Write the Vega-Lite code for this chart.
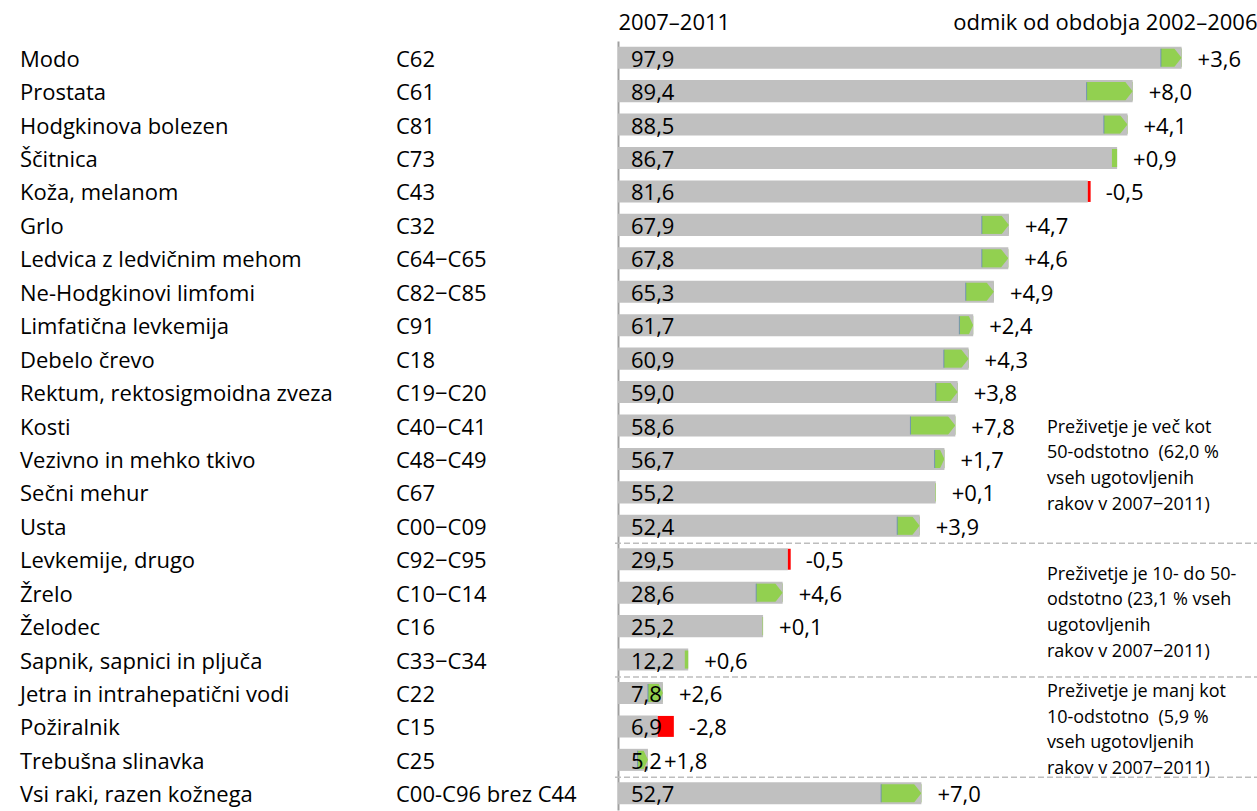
{
  "$schema": "https://vega.github.io/schema/vega-lite/v6.json",
  "width": 639,
  "height": 769,
  "padding": {"left": 20, "top": 11, "right": 0, "bottom": 3},
  "background": "white",
  "config": {
    "view": {"stroke": null},
    "locale": {"number": {"decimal": ",", "thousands": ".", "grouping": [3], "currency": ["", " €"], "minus": "-"}},
    "font": "Open Sans",
    "text": {"font": "Open Sans", "fontSize": 22, "color": "#000000"},
    "axisY": {"labels": false, "ticks": false, "title": null, "domain": true, "domainColor": "#a0a0a0", "domainWidth": 2, "grid": false}
  },
  "data": {"values": [
    {"name": "Modo", "code": "C62", "cur": 97.9, "delta": 3.6, "prev": 94.3},
    {"name": "Prostata", "code": "C61", "cur": 89.4, "delta": 8.0, "prev": 81.4},
    {"name": "Hodgkinova bolezen", "code": "C81", "cur": 88.5, "delta": 4.1, "prev": 84.4},
    {"name": "Ščitnica", "code": "C73", "cur": 86.7, "delta": 0.9, "prev": 85.8},
    {"name": "Koža, melanom", "code": "C43", "cur": 81.6, "delta": -0.5, "prev": 82.1},
    {"name": "Grlo", "code": "C32", "cur": 67.9, "delta": 4.7, "prev": 63.2},
    {"name": "Ledvica z ledvičnim mehom", "code": "C64−C65", "cur": 67.8, "delta": 4.6, "prev": 63.2},
    {"name": "Ne-Hodgkinovi limfomi", "code": "C82−C85", "cur": 65.3, "delta": 4.9, "prev": 60.4},
    {"name": "Limfatična levkemija", "code": "C91", "cur": 61.7, "delta": 2.4, "prev": 59.3},
    {"name": "Debelo črevo", "code": "C18", "cur": 60.9, "delta": 4.3, "prev": 56.6},
    {"name": "Rektum, rektosigmoidna zveza", "code": "C19−C20", "cur": 59.0, "delta": 3.8, "prev": 55.2},
    {"name": "Kosti", "code": "C40−C41", "cur": 58.6, "delta": 7.8, "prev": 50.8},
    {"name": "Vezivno in mehko tkivo", "code": "C48−C49", "cur": 56.7, "delta": 1.7, "prev": 55.0},
    {"name": "Sečni mehur", "code": "C67", "cur": 55.2, "delta": 0.1, "prev": 55.1},
    {"name": "Usta", "code": "C00−C09", "cur": 52.4, "delta": 3.9, "prev": 48.5},
    {"name": "Levkemije, drugo", "code": "C92−C95", "cur": 29.5, "delta": -0.5, "prev": 30.0},
    {"name": "Žrelo", "code": "C10−C14", "cur": 28.6, "delta": 4.6, "prev": 24.0},
    {"name": "Želodec", "code": "C16", "cur": 25.2, "delta": 0.1, "prev": 25.1},
    {"name": "Sapnik, sapnici in pljuča", "code": "C33−C34", "cur": 12.2, "delta": 0.6, "prev": 11.6},
    {"name": "Jetra in intrahepatični vodi", "code": "C22", "cur": 7.8, "delta": 2.6, "prev": 5.2},
    {"name": "Požiralnik", "code": "C15", "cur": 6.9, "delta": -2.8, "prev": 9.7},
    {"name": "Trebušna slinavka", "code": "C25", "cur": 5.2, "delta": 1.8, "prev": 3.4},
    {"name": "Vsi raki, razen kožnega", "code": "C00-C96 brez C44", "cur": 52.7, "delta": 7.0, "prev": 45.7}
  ]},
  "resolve": {"scale": {"x": "independent"}, "axis": {"x": "independent"}},
  "layer": [
    {
      "layer": [
        {
          "mark": {"type": "bar", "color": "#c0c0c0"},
          "encoding": {
            "x": {"field": "cur", "type": "quantitative", "scale": {"domain": [0, 111], "nice": false},
              "axis": {"orient": "top", "values": [0, 111], "labelExpr": "datum.value == 0 ? '2007–2011' : 'odmik od obdobja 2002–2006'", "labelFlush": true, "labelOverlap": false, "labelLimit": 0, "ticks": false, "domain": false, "grid": false, "title": null, "labelFontSize": 22, "labelFont": "Open Sans", "labelColor": "#000000", "labelPadding": 12, "labelBaseline": "alphabetic"}},
            "y": {"field": "name", "type": "nominal", "sort": null, "scale": {"paddingInner": 0.34, "paddingOuter": 0.17}}
          }
        },
        {
          "transform": [{"filter": "datum.delta < 0"}],
          "mark": {"type": "bar", "color": "#ff0000", "height": {"band": 0.95}},
          "encoding": {
            "x": {"field": "cur", "type": "quantitative"},
            "x2": {"field": "prev"},
            "y": {"field": "name", "type": "nominal", "sort": null}
          }
        },
        {
          "transform": [{"filter": "datum.delta > 0"}],
          "mark": {"type": "bar", "color": "#92d050", "height": {"band": 0.82}},
          "encoding": {
            "x": {"field": "prev", "type": "quantitative"},
            "x2": {"field": "cur"},
            "y": {"field": "name", "type": "nominal", "sort": null}
          }
        },
        {
          "transform": [{"filter": "datum.delta >= 1"}],
          "mark": {"type": "tick", "color": "#5b7fc0", "thickness": 1, "size": 18},
          "encoding": {
            "x": {"field": "prev", "type": "quantitative"},
            "y": {"field": "name", "type": "nominal", "sort": null}
          }
        },
        {
          "transform": [{"filter": "datum.delta >= 3.5"}],
          "mark": {"type": "point", "shape": "M -0.75 -0.95 L 0 -0.95 L 0 0.95 L -0.75 0.95 L 0 0 Z", "filled": true, "color": "#c0c0c0", "size": 400, "opacity": 1, "strokeWidth": 0},
          "encoding": {
            "x": {"field": "cur", "type": "quantitative"},
            "y": {"field": "name", "type": "nominal", "sort": null}
          }
        },
        {
          "transform": [{"filter": "datum.delta >= 1.5 && datum.delta < 3.5"}],
          "mark": {"type": "point", "shape": "M -0.45 -0.95 L 0 -0.95 L 0 0.95 L -0.45 0.95 L 0 0 Z", "filled": true, "color": "#c0c0c0", "size": 400, "opacity": 1, "strokeWidth": 0},
          "encoding": {
            "x": {"field": "cur", "type": "quantitative"},
            "y": {"field": "name", "type": "nominal", "sort": null}
          }
        },
        {
          "mark": {"type": "text", "align": "left", "baseline": "middle", "dx": 13, "dy": 2, "fontSize": 22},
          "encoding": {
            "x": {"datum": 0},
            "y": {"field": "name", "type": "nominal", "sort": null},
            "text": {"field": "cur", "type": "quantitative", "format": ".1f"}
          }
        },
        {
          "transform": [{"filter": "datum.delta > 0"}],
          "mark": {"type": "text", "align": "left", "baseline": "middle", "dx": 16, "dy": 2, "fontSize": 22},
          "encoding": {
            "x": {"field": "cur", "type": "quantitative"},
            "y": {"field": "name", "type": "nominal", "sort": null},
            "text": {"field": "delta", "type": "quantitative", "format": "+.1f"}
          }
        },
        {
          "transform": [{"filter": "datum.delta < 0"}],
          "mark": {"type": "text", "align": "left", "baseline": "middle", "dx": 15, "dy": 2, "fontSize": 22},
          "encoding": {
            "x": {"field": "prev", "type": "quantitative"},
            "y": {"field": "name", "type": "nominal", "sort": null},
            "text": {"field": "delta", "type": "quantitative", "format": "+.1f"}
          }
        },
        {
          "transform": [{"filter": {"field": "name", "oneOf": ["Levkemije, drugo", "Jetra in intrahepatični vodi", "Vsi raki, razen kožnega"]}}],
          "mark": {"type": "rule", "strokeDash": [6, 3], "color": "#bdbdbd", "strokeWidth": 1.5, "yOffset": -16, "xOffset": -3},
          "encoding": {
            "x": {"datum": 0},
            "x2": {"datum": 111},
            "y": {"field": "name", "type": "nominal", "sort": null}
          }
        },
        {
          "transform": [{"filter": "datum.name == 'Kosti'"}],
          "mark": {"type": "text", "align": "left", "baseline": "middle", "fontSize": 18, "lineHeight": 25.7, "dy": 2,
            "text": ["Preživetje je več kot", "50-odstotno \u00a0(62,0 %", "vseh ugotovljenih", "rakov v 2007−2011)"]},
          "encoding": {
            "x": {"datum": 74.5},
            "y": {"field": "name", "type": "nominal", "sort": null}
          }
        },
        {
          "transform": [{"filter": "datum.name == 'Žrelo'"}],
          "mark": {"type": "text", "align": "left", "baseline": "middle", "fontSize": 18, "lineHeight": 25.7, "dy": -18,
            "text": ["Preživetje je 10- do 50-", "odstotno (23,1 % vseh", "ugotovljenih", "rakov v 2007−2011)"]},
          "encoding": {
            "x": {"datum": 74.5},
            "y": {"field": "name", "type": "nominal", "sort": null}
          }
        },
        {
          "transform": [{"filter": "datum.name == 'Jetra in intrahepatični vodi'"}],
          "mark": {"type": "text", "align": "left", "baseline": "middle", "fontSize": 18, "lineHeight": 25.7, "dy": -1,
            "text": ["Preživetje je manj kot", "10-odstotno \u00a0(5,9 %", "vseh ugotovljenih", "rakov v 2007−2011)"]},
          "encoding": {
            "x": {"datum": 74.5},
            "y": {"field": "name", "type": "nominal", "sort": null}
          }
        }
      ]
    },
    {
      "transform": [{"fold": ["name", "code"], "as": ["col", "txt"]}],
      "mark": {"type": "text", "align": "left", "baseline": "middle", "dy": 2, "fontSize": 22},
      "encoding": {
        "x": {"field": "col", "type": "nominal", "scale": {"type": "point", "domain": ["name", "code"], "range": [-598, -222], "padding": 0}, "axis": null},
        "y": {"field": "name", "type": "nominal", "sort": null},
        "text": {"field": "txt", "type": "nominal"}
      }
    }
  ]
}
